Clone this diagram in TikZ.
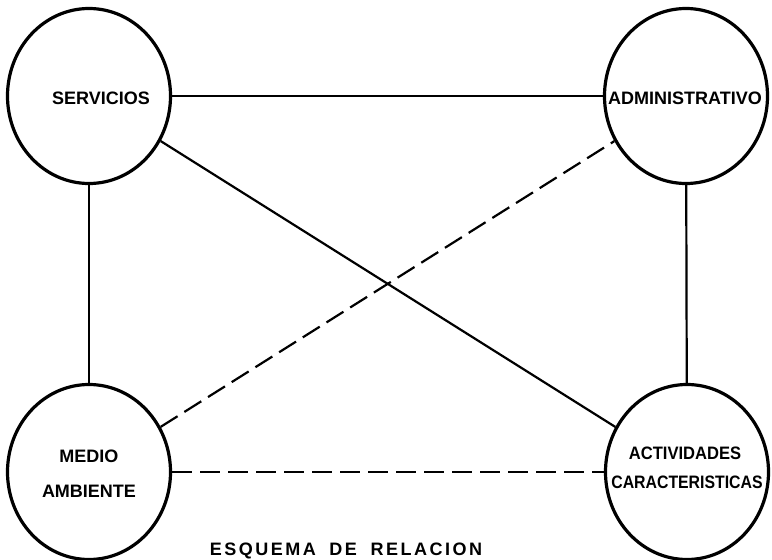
\documentclass[tikz,border=0pt]{standalone}
\usepackage{fontspec}
\setmainfont{Liberation Sans}
\usetikzlibrary{shapes.geometric}
\begin{document}
\begin{tikzpicture}[x=1pt,y=-1pt,
  bubble/.style={draw,line width=3.2pt,ellipse,minimum width=163pt,minimum height=175pt,inner sep=0pt},
  lbl/.style={font=\fontsize{18}{18}\selectfont\bfseries,inner sep=0pt,align=center},
  link/.style={line width=2.2pt},
  dlink/.style={line width=2.2pt,dash pattern=on 20pt off 8pt}]
\useasboundingbox (0,0) rectangle (772,560);
\node[bubble] (S) at (89,96) {};
\node[bubble] (A) at (686,96) {};
\node[bubble] (M) at (89,472) {};
\node[bubble] (C) at (687,472) {};
\node[lbl] (tS) at (101,98) {SERVICIOS};
\node[lbl] (tA) at (685,98) {ADMINISTRATIVO};
\node[lbl,font=\fontsize{18}{35}\selectfont\bfseries] (tM) at (89,474) {MEDIO\\AMBIENTE};
\node[lbl,xscale=0.92] (tC1) at (685,453) {ACTIVIDADES};
\node[lbl,xscale=0.88] (tC2) at (687,482) {CARACTERISTICAS};
\node[lbl,anchor=base,font=\fontsize{18}{18}\selectfont\bfseries\addfontfeature{LetterSpace=14}] (cap) at (346,555) {ESQUEMA\hspace{6pt} DE\hspace{6pt} RELACION};
\draw[link] (S) -- (A);
\draw[link] (S) -- (M);
\draw[link] (A) -- (C);
\draw[link] (S) -- (C);
\draw[dlink] (M) -- (A);
\draw[dlink] (M) -- (C);
\end{tikzpicture}
\end{document}
